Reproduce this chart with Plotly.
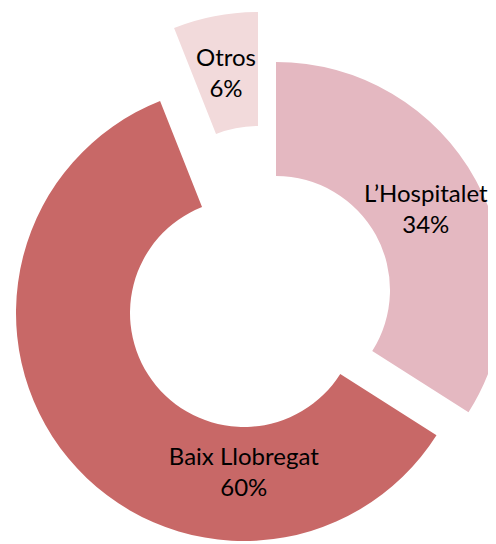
import math
import plotly.graph_objects as go

# ---- data ----
labels = ["L\u2019Hospitalet", "Baix Llobregat", "Otros"]
values = [34, 60, 6]
colors = ["#E4B8C1", "#C86867", "#F2DADB"]

W, H = 496, 544
R = 228
HOLE = 0.5
# centre of each (exploded) slice, pixels from the figure's top-left
centres = [(268, 282), (236, 305), (250, 232)]
FONT = dict(family="Lato, Carlito, Calibri, sans-serif", size=24, color="#000000")


def domain(cx, cy, r):
    return dict(x=[max(0.0, (cx - r) / W), min(1.0, (cx + r) / W)],
                y=[max(0.0, (H - cy - r) / H), min(1.0, (H - cy + r) / H)])


total = sum(values)
# slices whose label is drawn as an annotation at the slice's mid-angle
annotated = {0, 2}

fig = go.Figure()
for i, lab in enumerate(labels):
    cols = [colors[j] if j == i else "rgba(0,0,0,0)" for j in range(len(labels))]
    tt = ["%{label}<br>%{percent:.0%}" if (j == i and i not in annotated) else ""
          for j in range(len(labels))]
    cx, cy = centres[i]
    fig.add_trace(go.Pie(
        labels=labels,
        values=values,
        sort=False,
        direction="clockwise",
        rotation=0,
        hole=HOLE,
        marker=dict(colors=cols, line=dict(width=0)),
        texttemplate=tt,
        textposition="inside",
        insidetextorientation="horizontal",
        textfont=FONT,
        hoverinfo="none",
        showlegend=False,
        domain=domain(cx, cy, R),
    ))

# labels placed at the middle of the ring, on the slice's mid-angle
cum = 0
for i, v in enumerate(values):
    mid = (cum + v / 2) / total * 2 * math.pi
    cum += v
    if i not in annotated:
        continue
    cx, cy = centres[i]
    rm = R * (1 + HOLE) / 2
    px = cx + rm * math.sin(mid)
    py = cy - rm * math.cos(mid)
    fig.add_annotation(
        x=px / W, y=(H - py) / H, xref="paper", yref="paper",
        text=f"{labels[i]}<br>{round(100 * v / total)}%",
        showarrow=False, font=FONT, align="center",
        xanchor="center", yanchor="middle",
    )

fig.update_layout(
    width=W, height=H,
    margin=dict(l=0, r=0, t=0, b=0),
    paper_bgcolor="white",
    plot_bgcolor="white",
    showlegend=False,
)

fig.write_html("out.html")
